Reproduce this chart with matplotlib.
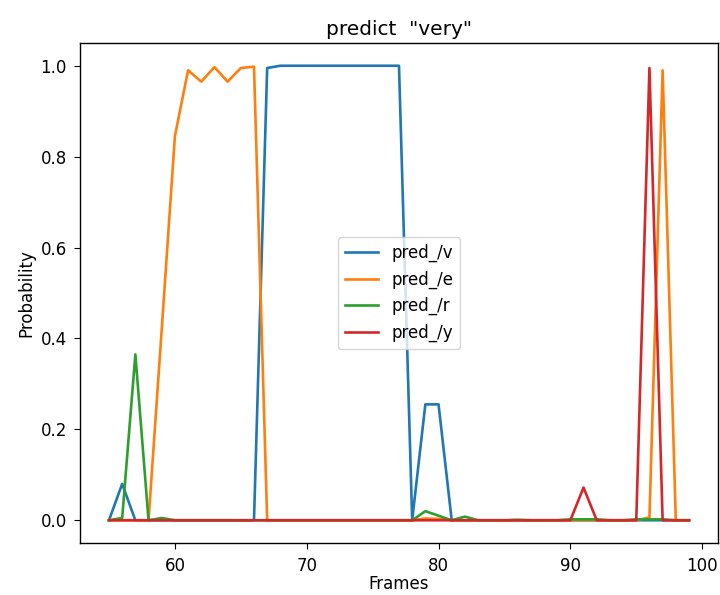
import numpy as np
import matplotlib
matplotlib.use("Agg")
import matplotlib.pyplot as plt

frames = list(range(55, 100))

pred_v = [0, 0.08, 0, 0, 0, 0, 0, 0, 0, 0, 0, 0, 0.995, 1.0, 1.0, 1.0, 1.0, 1.0,
          1.0, 1.0, 1.0, 1.0, 1.0, 0, 0.255, 0.255, 0, 0, 0, 0, 0, 0, 0, 0, 0, 0,
          0, 0, 0, 0, 0, 0, 0, 0, 0]
pred_e = [0, 0, 0, 0, 0.42, 0.845, 0.99, 0.965, 0.997, 0.965, 0.995, 0.998, 0, 0,
          0, 0, 0, 0, 0, 0, 0, 0, 0, 0, 0.004, 0.003, 0, 0, 0, 0, 0, 0, 0, 0, 0,
          0, 0, 0, 0, 0, 0, 0.006, 0.99, 0, 0]
pred_r = [0, 0.005, 0.365, 0, 0.005, 0, 0, 0, 0, 0, 0, 0, 0, 0, 0, 0, 0, 0, 0, 0,
          0, 0, 0, 0, 0.02, 0.01, 0, 0.008, 0, 0, 0, 0.001, 0, 0, 0, 0.002, 0.002,
          0.002, 0, 0, 0.002, 0.002, 0.002, 0, 0]
pred_y = [0, 0, 0, 0, 0, 0, 0, 0, 0, 0, 0, 0, 0, 0, 0, 0, 0, 0, 0, 0, 0, 0, 0, 0,
          0, 0, 0, 0, 0, 0, 0, 0, 0, 0, 0, 0, 0.072, 0, 0, 0, 0, 0.995, 0, 0, 0]

plt.rcParams["font.size"] = 12
plt.rcParams["lines.linewidth"] = 1.9
plt.rcParams["axes.linewidth"] = 1.0
plt.rcParams["xtick.major.size"] = 4.4
plt.rcParams["ytick.major.size"] = 4.4
plt.rcParams["xtick.major.pad"] = 5.5
plt.rcParams["ytick.major.pad"] = 5

fig = plt.figure(figsize=(7.2, 5.95), dpi=100)
ax = fig.add_axes([0.1111, 0.0874, 0.8861, 0.8403])

ax.plot(frames, pred_v, label="pred_/v")
ax.plot(frames, pred_e, label="pred_/e")
ax.plot(frames, pred_r, label="pred_/r")
ax.plot(frames, pred_y, label="pred_/y")

ax.set_title('predict  "very"', fontsize=14.5)
# keep the x label inside the canvas
ax.set_xlabel("Frames", labelpad=0)
ax.set_ylabel("Probability")
ax.legend(loc="center")

fig.savefig("out.png", dpi=100)
